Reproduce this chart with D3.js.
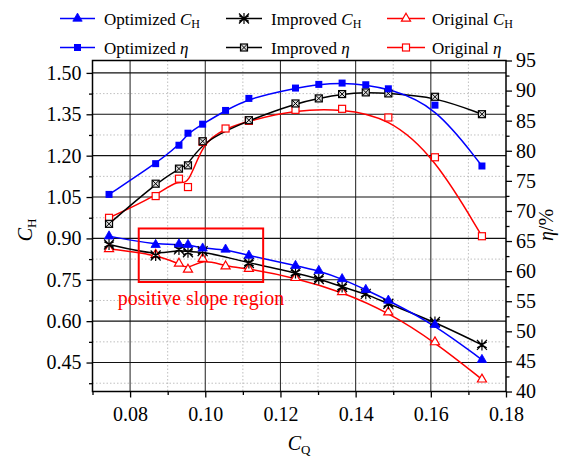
<!DOCTYPE html>
<html><head><meta charset="utf-8">
<script src="https://cdn.jsdelivr.net/npm/d3@7"></script>
<style>
body{margin:0;background:#fff}
svg{display:block}
text{font-family:"Liberation Serif","Times New Roman",serif;fill:#000}
</style>
</head><body>
<svg id="c" width="563" height="459"></svg>
<script>
// ---- data ----
const cqOptimized = [0.0744,0.0868,0.0930,0.0954,0.0993,0.1054,0.1116,0.1240,0.1302,0.1364,0.1427,0.1487,0.1611,0.1736];
const chOptimized = [0.908,0.877,0.879,0.877,0.864,0.860,0.838,0.801,0.783,0.753,0.714,0.675,0.587,0.460];
const etaOptimized = [72.75,77.86,80.92,82.92,84.42,86.70,88.70,90.42,91.03,91.25,90.97,90.30,87.58,77.47];
const cqImproved = [0.0744,0.0868,0.0930,0.0954,0.0993,0.1116,0.1240,0.1302,0.1364,0.1427,0.1487,0.1611,0.1736];
const chImproved = [0.878,0.838,0.860,0.850,0.854,0.811,0.775,0.753,0.724,0.699,0.663,0.597,0.514];
const etaImproved = [67.86,74.53,77.03,77.58,81.58,85.08,87.86,88.70,89.42,89.70,89.53,88.97,86.08];
const cqOriginal = [0.0744,0.0868,0.0930,0.0954,0.0993,0.1054,0.1116,0.1240,0.1364,0.1487,0.1611,0.1736];
const chOriginal = [0.862,0.841,0.809,0.787,0.826,0.799,0.790,0.757,0.706,0.632,0.524,0.389];
const etaOriginal = [68.86,72.47,75.36,73.97,81.47,83.70,84.97,86.80,86.97,85.53,78.92,65.80];
const xTicks = [0.08,0.10,0.12,0.14,0.16,0.18];
const xMinorTicks = [0.07,0.09,0.11,0.13,0.15,0.17];
const chTicks = [0.45,0.60,0.75,0.90,1.05,1.20,1.35,1.50];
const chMinorTicks = [0.375,0.525,0.675,0.825,0.975,1.125,1.275,1.425];
const etaTicks = [40,45,50,55,60,65,70,75,80,85,90,95];
const etaMinorTicks = [42.5,47.5,52.5,57.5,62.5,67.5,72.5,77.5,82.5,87.5,92.5];
const regionBox = {x0:0.0823, x1:0.1154, y0:0.936, y1:0.742};
const regionLabel = "positive slope region";

// ---- layout ----
const L = 92.5, R = 506, T = 60.5, B = 391.5;
const svg = d3.select("#c");
const x = d3.scaleLinear().domain([0.07,0.18]).range([L,R]);
const yL = d3.scaleLinear().domain([0.345,1.545]).range([B,T]);
const yR = d3.scaleLinear().domain([40,95]).range([B,T]);

// grid
const grid = svg.append("g");
grid.selectAll(".vmin").data(xMinorTicks.filter(d=>d>0.07)).enter().append("line")
  .attr("x1",d=>x(d)).attr("x2",d=>x(d)).attr("y1",T).attr("y2",B)
  .attr("stroke","#b0b0b0").attr("stroke-width",0.8).attr("stroke-dasharray","1.5,2");
grid.selectAll(".hmin").data(chMinorTicks).enter().append("line")
  .attr("x1",L).attr("x2",R).attr("y1",d=>yL(d)).attr("y2",d=>yL(d))
  .attr("stroke","#b0b0b0").attr("stroke-width",0.8).attr("stroke-dasharray","1.5,2");
grid.selectAll(".vmaj").data(xTicks.filter(d=>d<0.18)).enter().append("line")
  .attr("x1",d=>x(d)).attr("x2",d=>x(d)).attr("y1",T).attr("y2",B)
  .attr("stroke","#333").attr("stroke-width",1.1);
grid.selectAll(".hmaj").data(chTicks).enter().append("line")
  .attr("x1",L).attr("x2",R).attr("y1",d=>yL(d)).attr("y2",d=>yL(d))
  .attr("stroke","#111").attr("stroke-width",1.1);

// axes
function styleAxis(g){
  g.select(".domain").remove();
  g.selectAll(".tick line").attr("stroke","#000").attr("stroke-width",1.3);
  g.selectAll("text").style("font-size","20px").style("font-family",'"Liberation Serif",serif');
}
svg.append("g").attr("transform",`translate(0,${B})`)
  .call(d3.axisBottom(x).tickValues(xTicks).tickFormat(d3.format(".2f")).tickSize(6).tickPadding(9))
  .call(styleAxis);
svg.append("g").attr("transform",`translate(0,${B})`)
  .call(d3.axisBottom(x).tickValues(xMinorTicks).tickFormat("").tickSize(3.5))
  .call(styleAxis);
svg.append("g").attr("transform",`translate(${L},0)`)
  .call(d3.axisLeft(yL).tickValues(chTicks).tickFormat(d3.format(".2f")).tickSize(6).tickPadding(5))
  .call(styleAxis);
svg.append("g").attr("transform",`translate(${L},0)`)
  .call(d3.axisLeft(yL).tickValues(chMinorTicks).tickFormat("").tickSize(3.5))
  .call(styleAxis);
svg.append("g").attr("transform",`translate(${R},0)`)
  .call(d3.axisRight(yR).tickValues(etaTicks).tickFormat(d3.format("d")).tickSize(6).tickPadding(4))
  .call(styleAxis);
svg.append("g").attr("transform",`translate(${R},0)`)
  .call(d3.axisRight(yR).tickValues(etaMinorTicks).tickFormat("").tickSize(3.5))
  .call(styleAxis);

// frame
svg.append("rect").attr("x",L).attr("y",T).attr("width",R-L).attr("height",B-T)
  .attr("fill","none").attr("stroke","#000").attr("stroke-width",1.5);

// axis titles
const tL = svg.append("text").attr("transform","translate(32,230) rotate(-90)").attr("text-anchor","middle").style("font-size","20px");
tL.append("tspan").attr("font-style","italic").text("C");
tL.append("tspan").attr("dy",4).style("font-size","13px").text("H");
const tR = svg.append("text").attr("transform","translate(553,225) rotate(-90)").attr("text-anchor","middle").style("font-size","20px");
tR.append("tspan").attr("font-style","italic").text("η");
tR.append("tspan").text("/%");
const tB = svg.append("text").attr("x",299).attr("y",450).attr("text-anchor","middle").style("font-size","20px");
tB.append("tspan").attr("font-style","italic").text("C");
tB.append("tspan").attr("dy",4).style("font-size","13px").text("Q");

// markers
const markers = {
  triFill:(g,c)=>g.append("path").attr("d",d3.symbol(d3.symbolTriangle,38)()).attr("fill",c).attr("stroke",c).attr("stroke-width",0.8),
  triOpen:(g,c)=>g.append("path").attr("d",d3.symbol(d3.symbolTriangle,36)()).attr("fill","#fff").attr("stroke",c).attr("stroke-width",1.2),
  sqFill:(g,c)=>g.append("rect").attr("x",-3.5).attr("y",-3.5).attr("width",7).attr("height",7).attr("fill",c),
  sqOpen:(g,c)=>g.append("rect").attr("x",-3.5).attr("y",-3.5).attr("width",7).attr("height",7).attr("fill","#fff").attr("stroke",c).attr("stroke-width",1.2),
  sqCross:(g,c)=>{g.append("rect").attr("x",-3.5).attr("y",-3.5).attr("width",7).attr("height",7).attr("fill","#ddd").attr("stroke",c).attr("stroke-width",1.2);
    g.append("path").attr("d","M-3.5,-3.5L3.5,3.5M-3.5,3.5L3.5,-3.5").attr("stroke",c).attr("stroke-width",1);},
  star:(g,c)=>g.append("path").attr("d","M-5,-5L5,5M-5,5L5,-5M0,-5.5L0,5.5M-4.8,-2.8L4.8,2.8M-4.8,2.8L4.8,-2.8")
    .attr("stroke",c).attr("stroke-width",1.2).attr("fill","none")
};

const series = [
  {xs:cqOriginal, ys:chOriginal, axis:yL, color:"#ff0000", mk:"triOpen", label:["Original ","C","H"]},
  {xs:cqOriginal, ys:etaOriginal, axis:yR, color:"#ff0000", mk:"sqOpen", label:["Original ","η"]},
  {xs:cqImproved, ys:chImproved, axis:yL, color:"#000000", mk:"star", label:["Improved ","C","H"]},
  {xs:cqImproved, ys:etaImproved, axis:yR, color:"#000000", mk:"sqCross", label:["Improved ","η"]},
  {xs:cqOptimized, ys:chOptimized, axis:yL, color:"#0000ff", mk:"triFill", label:["Optimized ","C","H"]},
  {xs:cqOptimized, ys:etaOptimized, axis:yR, color:"#0000ff", mk:"sqFill", label:["Optimized ","η"]}
];

series.forEach(s=>{
  const pts = s.xs.map((v,i)=>[v,s.ys[i]]);
  const line = d3.line().x(d=>x(d[0])).y(d=>s.axis(d[1])).curve(d3.curveBasis);
  svg.append("path").datum(pts).attr("d",line).attr("fill","none").attr("stroke",s.color).attr("stroke-width",1.5);
});
series.forEach(s=>{
  const pts = s.xs.map((v,i)=>[v,s.ys[i]]);
  pts.forEach(d=>{
    const g = svg.append("g").attr("transform",`translate(${x(d[0])},${s.axis(d[1])})`);
    markers[s.mk](g,s.color);
  });
});

// annotation
svg.append("rect").attr("x",x(regionBox.x0)).attr("y",yL(regionBox.y0))
  .attr("width",x(regionBox.x1)-x(regionBox.x0)).attr("height",yL(regionBox.y1)-yL(regionBox.y0))
  .attr("fill","none").attr("stroke","#ff0000").attr("stroke-width",2);
svg.append("text").attr("x",(x(regionBox.x0)+x(regionBox.x1))/2).attr("y",305).attr("text-anchor","middle")
  .style("font-size","20px").style("fill","#ff0000").text(regionLabel);

// legend
const legendOrder = [4,2,0,5,3,1];
const colX = [[60,95,104],[226,262,271],[387,425,432]];
const rowY = [18.5,47.5];
legendOrder.forEach((si,k)=>{
  const s = series[si];
  const c = colX[k%3], yy = rowY[Math.floor(k/3)];
  svg.append("line").attr("x1",c[0]).attr("x2",c[1]).attr("y1",yy).attr("y2",yy).attr("stroke",s.color).attr("stroke-width",1.5);
  const g = svg.append("g").attr("transform",`translate(${(c[0]+c[1])/2},${yy})`);
  markers[s.mk](g,s.color);
  const t = svg.append("text").attr("x",c[2]).attr("y",yy+6).style("font-size","17px");
  t.append("tspan").text(s.label[0]);
  t.append("tspan").attr("font-style","italic").text(s.label[1]);
  if (s.label[2]) t.append("tspan").attr("dy",3).style("font-size","12px").text(s.label[2]);
});
</script>
</body></html>
